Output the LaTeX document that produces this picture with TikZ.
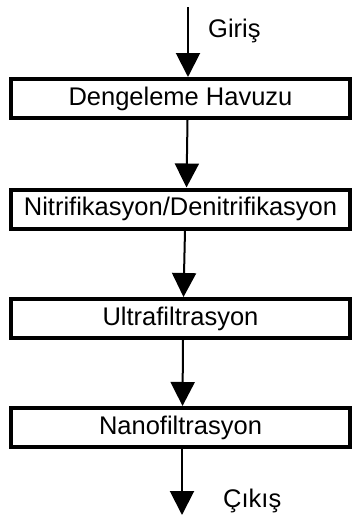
\documentclass[tikz,border=0pt]{standalone}
\usepackage{fontspec}
\setmainfont{Liberation Sans}
\usetikzlibrary{arrows.meta}
\begin{document}
\begin{tikzpicture}[x=1pt,y=-1pt,
  box/.style={draw=black,line width=4pt,fill=white,minimum width=339pt,minimum height=39pt,inner sep=0pt,
    font=\fontsize{25.5}{30}\selectfont},
  lbl/.style={inner sep=0pt,font=\fontsize{25.5}{30}\selectfont},
  arr/.style={line width=2pt,-{Triangle[length=24pt,width=24pt]}}]
\useasboundingbox (0,0) rectangle (353,525);
\node[box] (b1) at (180.5,98.5) {Dengeleme Havuzu};
\node[box] (b2) at (180.5,209) {Nitrifikasyon/Denitrifikasyon};
\node[box] (b3) at (180.5,318.5) {Ultrafiltrasyon};
\node[box] (b4) at (180.5,427.5) {Nanofiltrasyon};
\coordinate (in) at (188,7);
\coordinate (out) at (182,515);
\node[lbl,anchor=base west] (giris) at (208,37) {Giriş};
\node[lbl,anchor=base west] (cikis) at (223,507) {Çıkış};
\draw[arr] (in) -- (b1.north -| in);
\draw[arr] ([xshift=7pt]b1.south) -- ([xshift=6pt]b2.north);
\draw[arr] ([xshift=4.5pt]b2.south) -- ([xshift=3pt]b3.north);
\draw[arr] ([xshift=2.5pt]b3.south) -- ([xshift=2pt]b4.north);
\draw[arr] (b4.south -| out) -- (out);
\end{tikzpicture}
\end{document}
